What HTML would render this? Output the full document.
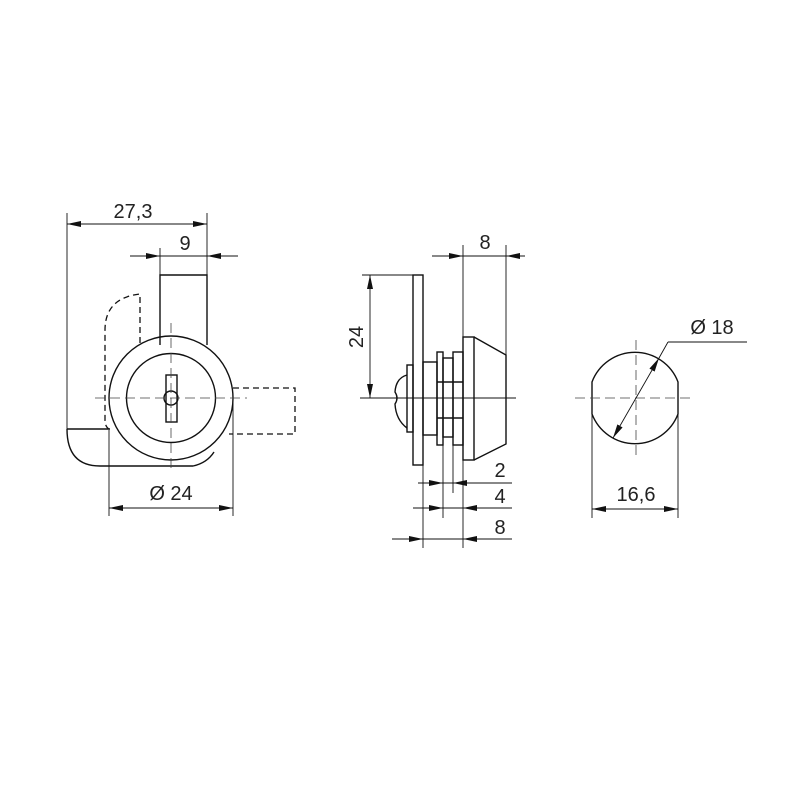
<!DOCTYPE html>
<html><head><meta charset="utf-8"><style>
html,body{margin:0;padding:0;background:#fff}
text{font-family:"Liberation Sans",sans-serif;font-size:20px;fill:#222}
</style></head><body>
<svg width="800" height="800" viewBox="0 0 800 800" xmlns="http://www.w3.org/2000/svg">
<defs>
<marker id="a" viewBox="0 0 14 6" refX="14" refY="3" markerWidth="14" markerHeight="6" markerUnits="userSpaceOnUse" orient="auto-start-reverse"><path d="M0,0 L14,3 L0,6 z" fill="#111"/></marker>
</defs>
<rect width="800" height="800" fill="#fff"/>
<g fill="none" stroke="#111">
<!-- LEFT VIEW -->
<g stroke-width="0.9">
<line x1="67" y1="213" x2="67" y2="430"/>
<line x1="207" y1="213" x2="207" y2="275"/>
<line x1="67" y1="224" x2="207" y2="224" marker-start="url(#a)" marker-end="url(#a)"/>
<line x1="160" y1="248" x2="160" y2="275"/>
<line x1="130" y1="256" x2="160" y2="256" marker-end="url(#a)"/>
<line x1="238" y1="256" x2="207" y2="256" marker-end="url(#a)"/>
<line x1="160" y1="256" x2="207" y2="256"/>
<line x1="109" y1="430" x2="109" y2="516"/>
<line x1="233" y1="395" x2="233" y2="516"/>
<line x1="109" y1="508" x2="233" y2="508" marker-start="url(#a)" marker-end="url(#a)"/>
</g>
<g stroke-width="1.4">
<path d="M160,345 L160,275 L207,275 L207,345"/>
<circle cx="171" cy="398" r="62"/>
<circle cx="171" cy="398" r="44.5"/>
<rect x="166" y="375" width="11" height="47"/>
<circle cx="171" cy="398" r="7"/>
<path d="M67,429 L110,429 M67,429 Q67,466 100,466 L193,466 Q207,463 214,452"/>
</g>
<g stroke-width="1.3" stroke-dasharray="6,4">
<path d="M140,343 L140,294 Q105,298 105,330 L105,420 Q105,428 111,430"/>
<path d="M233,388 L295,388 L295,434 L229,434"/>
</g>
<g stroke-width="0.8" stroke="#444" stroke-dasharray="10,5">
<line x1="95" y1="398" x2="247" y2="398"/>
<line x1="171" y1="323" x2="171" y2="471"/>
</g>
<!-- MIDDLE VIEW -->
<g stroke-width="0.9">
<line x1="362" y1="275" x2="413" y2="275"/>
<line x1="370" y1="275" x2="370" y2="398" marker-start="url(#a)" marker-end="url(#a)"/>
<line x1="360" y1="398" x2="516" y2="398"/>
<line x1="463" y1="245" x2="463" y2="337"/>
<line x1="506" y1="245" x2="506" y2="355"/>
<line x1="432" y1="256" x2="463" y2="256" marker-end="url(#a)"/>
<line x1="525" y1="256" x2="506" y2="256" marker-end="url(#a)"/>
<line x1="463" y1="256" x2="506" y2="256"/>
<line x1="423" y1="465" x2="423" y2="548"/>
<line x1="443" y1="445" x2="443" y2="518"/>
<line x1="453" y1="437" x2="453" y2="493"/>
<line x1="463" y1="460" x2="463" y2="548"/>
<line x1="418" y1="483" x2="512" y2="483"/>
<line x1="425" y1="483" x2="443" y2="483" marker-end="url(#a)"/>
<line x1="475" y1="483" x2="453" y2="483" marker-end="url(#a)"/>
<line x1="413" y1="508" x2="512" y2="508"/>
<line x1="425" y1="508" x2="443" y2="508" marker-end="url(#a)"/>
<line x1="485" y1="508" x2="463" y2="508" marker-end="url(#a)"/>
<line x1="392" y1="539" x2="512" y2="539"/>
<line x1="400" y1="539" x2="423" y2="539" marker-end="url(#a)"/>
<line x1="485" y1="539" x2="463" y2="539" marker-end="url(#a)"/>
</g>
<g stroke-width="1.4">
<rect x="413" y="275" width="10" height="190"/>
<rect x="407" y="365" width="6" height="67"/>
<path d="M407,375 Q396,378 395,392 Q399,398 395,404 Q396,420 407,428"/>
<rect x="423" y="362" width="14" height="73"/>
<rect x="437" y="352" width="6" height="93"/>
<rect x="443" y="358" width="10" height="79"/>
<rect x="453" y="352" width="10" height="93"/>
<path d="M437,382 H463 M437,418 H463"/>
<rect x="463" y="337" width="11" height="123"/>
<path d="M474,337 L506,355 L506,444 L474,460"/>
</g>
<!-- RIGHT VIEW -->
<g stroke-width="1.4">
<path d="M592,382 A46,46 0 0 1 678,382 L678,414 A46,46 0 0 1 592,414 Z"/>
</g>
<g stroke-width="0.8" stroke="#444" stroke-dasharray="10,5">
<line x1="575" y1="398" x2="695" y2="398"/>
<line x1="636" y1="340" x2="636" y2="456"/>
</g>
<g stroke-width="0.9">
<line x1="747" y1="342" x2="668" y2="342"/>
<line x1="668" y1="342" x2="659" y2="358"/>
<line x1="636" y1="398" x2="659" y2="358" marker-end="url(#a)"/>
<line x1="636" y1="398" x2="613" y2="438" marker-end="url(#a)"/>
<line x1="592" y1="414" x2="592" y2="518"/>
<line x1="678" y1="414" x2="678" y2="518"/>
<line x1="636" y1="509" x2="592" y2="509" marker-end="url(#a)"/>
<line x1="636" y1="509" x2="678" y2="509" marker-end="url(#a)"/>
</g>
</g>
<!-- labels -->
<text x="133" y="218" text-anchor="middle">27,3</text>
<text x="185" y="250" text-anchor="middle">9</text>
<text x="171" y="500" text-anchor="middle">Ø 24</text>
<text x="363" y="337" text-anchor="middle" transform="rotate(-90 363 337)">24</text>
<text x="485" y="249" text-anchor="middle">8</text>
<text x="500" y="477" text-anchor="middle">2</text>
<text x="500" y="503" text-anchor="middle">4</text>
<text x="500" y="534" text-anchor="middle">8</text>
<text x="712" y="334" text-anchor="middle">Ø 18</text>
<text x="636" y="501" text-anchor="middle">16,6</text>
</svg>
</body></html>
